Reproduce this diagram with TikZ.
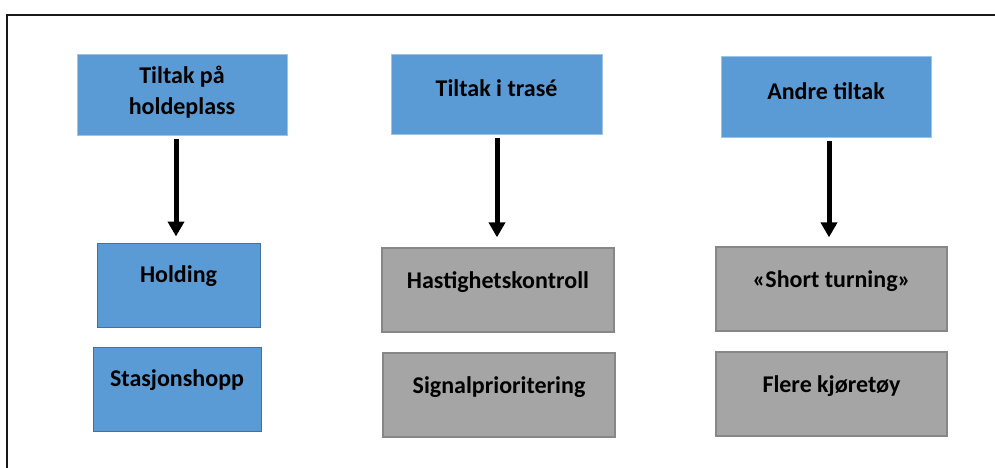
\documentclass[tikz,border=0pt]{standalone}
\usepackage{fontspec}
\setmainfont{Carlito}
\usetikzlibrary{arrows.meta}
\definecolor{bblue}{HTML}{5B9BD5}
\definecolor{bblueedge}{HTML}{9DC3E6}
\definecolor{bbluedark}{HTML}{41719C}
\definecolor{bgrey}{HTML}{A5A5A5}
\definecolor{bgreyedge}{HTML}{878787}
\tikzset{
  boxbase/.style={rectangle, inner sep=0pt, line width=1pt},
  topbox/.style={boxbase, fill=bblue, draw=bblueedge},
  bluebox/.style={boxbase, fill=bblue, draw=bbluedark},
  greybox/.style={boxbase, fill=bgrey, draw=bgreyedge, line width=1.3pt},
  lbl/.style={font=\fontsize{24}{31}\selectfont\bfseries, text=black, align=center, inner sep=0pt},
  arr/.style={line width=5pt, -{Triangle[width=16pt,length=15pt]}},
}
\begin{document}
\begin{tikzpicture}[x=1pt,y=-1pt]
\useasboundingbox (0,0) rectangle (995,468);
\clip (0,0) rectangle (995,468);
\draw[line width=2pt, draw=black!90] (7,15) rectangle (1010,490);
% top boxes
\node[topbox, minimum width=210pt, minimum height=80pt] (t1) at (182,95) {};
\node[lbl] (t1l) at (182,92) {Tiltak på\\holdeplass};
\node[topbox, minimum width=211pt, minimum height=79pt] (t2) at (496.5,94.5) {};
\node[lbl] (t2l) at (496.5,88) {Tiltak i trasé};
\node[topbox, minimum width=210pt, minimum height=80pt] (t3) at (826,97) {};
\node[lbl] (t3l) at (826,91) {Andre tiltak};
% bottom boxes column 1
\node[bluebox, minimum width=163pt, minimum height=84pt] (h) at (178.5,285) {};
\node[lbl] (hl) at (178.5,276) {Holding};
\node[bluebox, minimum width=168pt, minimum height=84pt] (s) at (177,389) {};
\node[lbl] (sl) at (177,380) {Stasjonshopp};
% column 2
\node[greybox, minimum width=232pt, minimum height=84pt] (hk) at (498,290) {};
\node[lbl] (hkl) at (498,282) {Hastighetskontroll};
\node[greybox, minimum width=232pt, minimum height=84pt] (sp) at (499,395) {};
\node[lbl] (spl) at (499,387) {Signalprioritering};
% column 3
\node[greybox, minimum width=231pt, minimum height=84pt] (st) at (831.5,289) {};
\node[lbl] (stl) at (831.5,281) {«Short turning»};
\node[greybox, minimum width=231pt, minimum height=84pt] (fk) at (831.5,394) {};
\node[lbl] (fkl) at (831.5,386) {Flere kjøretøy};
% arrows
\coordinate (a1) at (176,0);
\coordinate (a2) at (497,0);
\coordinate (a3) at (829,0);
\draw[arr, shorten <=3pt, shorten >=6pt] (t1.south -| a1) -- (h.north -| a1);
\draw[arr, shorten <=3pt, shorten >=10pt] (t2.south -| a2) -- (hk.north -| a2);
\draw[arr, shorten <=3pt, shorten >=9pt] (t3.south -| a3) -- (st.north -| a3);
\end{tikzpicture}
\end{document}
